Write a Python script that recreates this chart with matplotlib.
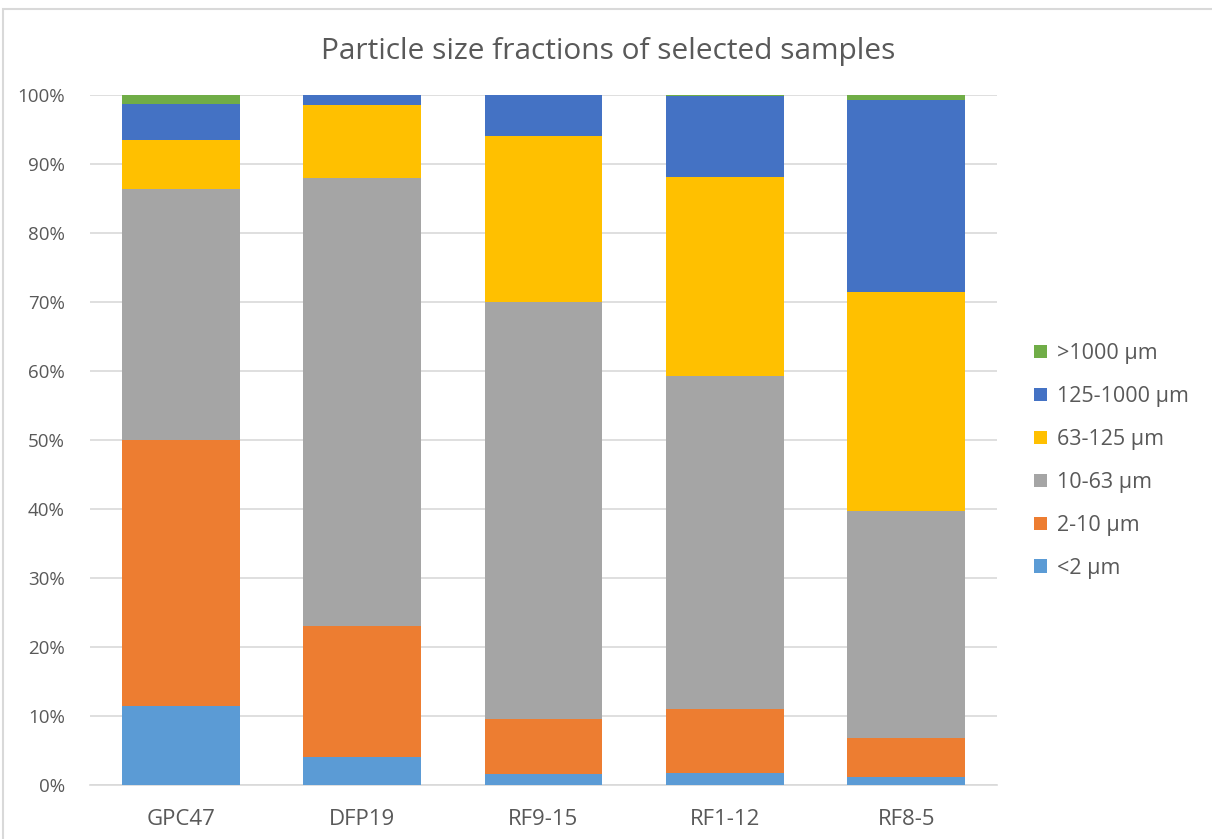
import matplotlib
matplotlib.use("Agg")
import matplotlib.pyplot as plt
from matplotlib.patches import Rectangle
import numpy as np

samples = ["GPC47", "DFP19", "RF9-15", "RF1-12", "RF8-5"]
fractions = ["<2 µm", "2-10 µm", "10-63 µm", "63-125 µm", "125-1000 µm", ">1000 µm"]

clay = [11.4, 4.1, 1.6, 1.7, 1.2]
fine_silt = [38.6, 18.9, 8.0, 9.3, 5.6]
coarse_silt = [36.4, 65.0, 60.4, 48.3, 32.9]
very_fine_sand = [7.1, 10.6, 24.1, 28.8, 31.8]
sand = [5.2, 1.4, 5.9, 11.7, 27.8]
gravel = [1.3, 0.0, 0.0, 0.2, 0.7]

series = [clay, fine_silt, coarse_silt, very_fine_sand, sand, gravel]
colors = ["#5B9BD5", "#ED7D31", "#A5A5A5", "#FFC000", "#4472C4", "#70AD47"]

text_color = "#595959"
plt.rcParams["font.family"] = ["Open Sans", "DejaVu Sans"]

fig = plt.figure(figsize=(12.12, 8.39), dpi=100)
W, H = 1212, 839
ax = fig.add_axes([90 / W, 1 - 785 / H, (997 - 90) / W, (785 - 95) / H])

# outer chart frame
fig.patches.append(Rectangle((3 / W, -0.1), 1.2, (839 - 9) / H + 0.1,
                             transform=fig.transFigure, fill=False,
                             edgecolor="#D9D9D9", linewidth=1.5))

x = np.arange(len(samples))
bottom = np.zeros(len(samples))
handles = []
for vals, col, lab in zip(series, colors, fractions):
    v = np.array(vals)
    b = ax.bar(x, v, 0.65, bottom=bottom, color=col, label=lab, zorder=3)
    handles.append(b)
    bottom += v

ax.set_xlim(-0.5, len(samples) - 0.5)
ax.set_ylim(0, 100)
ax.set_yticks(np.arange(0, 101, 10))
ax.set_yticklabels([f"{t}%" for t in range(0, 101, 10)])
ax.set_xticks(x)
ax.set_xticklabels(samples)
ax.yaxis.grid(True, color="#D9D9D9", linewidth=1.2, zorder=0)
ax.set_axisbelow(True)
for s in ["top", "right", "left"]:
    ax.spines[s].set_visible(False)
ax.spines["bottom"].set_color("#D9D9D9")
ax.spines["bottom"].set_linewidth(1.2)
ax.tick_params(axis="y", length=0, colors=text_color, labelsize=13.5, pad=18)
ax.tick_params(axis="x", length=0, colors=text_color, labelsize=16, pad=17)

fig.text(608 / W, 1 - 51 / H, "Particle size fractions of selected samples",
         ha="center", va="center", fontsize=21.5, color=text_color)

leg = fig.legend(handles[::-1], fractions[::-1], loc="center left",
                 bbox_to_anchor=(1015 / W, 1 - 461 / H), frameon=False,
                 fontsize=15.5, labelcolor=text_color, handlelength=0.6,
                 handleheight=0.6, handletextpad=0.45, labelspacing=1.02)

fig.savefig("out.png", dpi=100)
